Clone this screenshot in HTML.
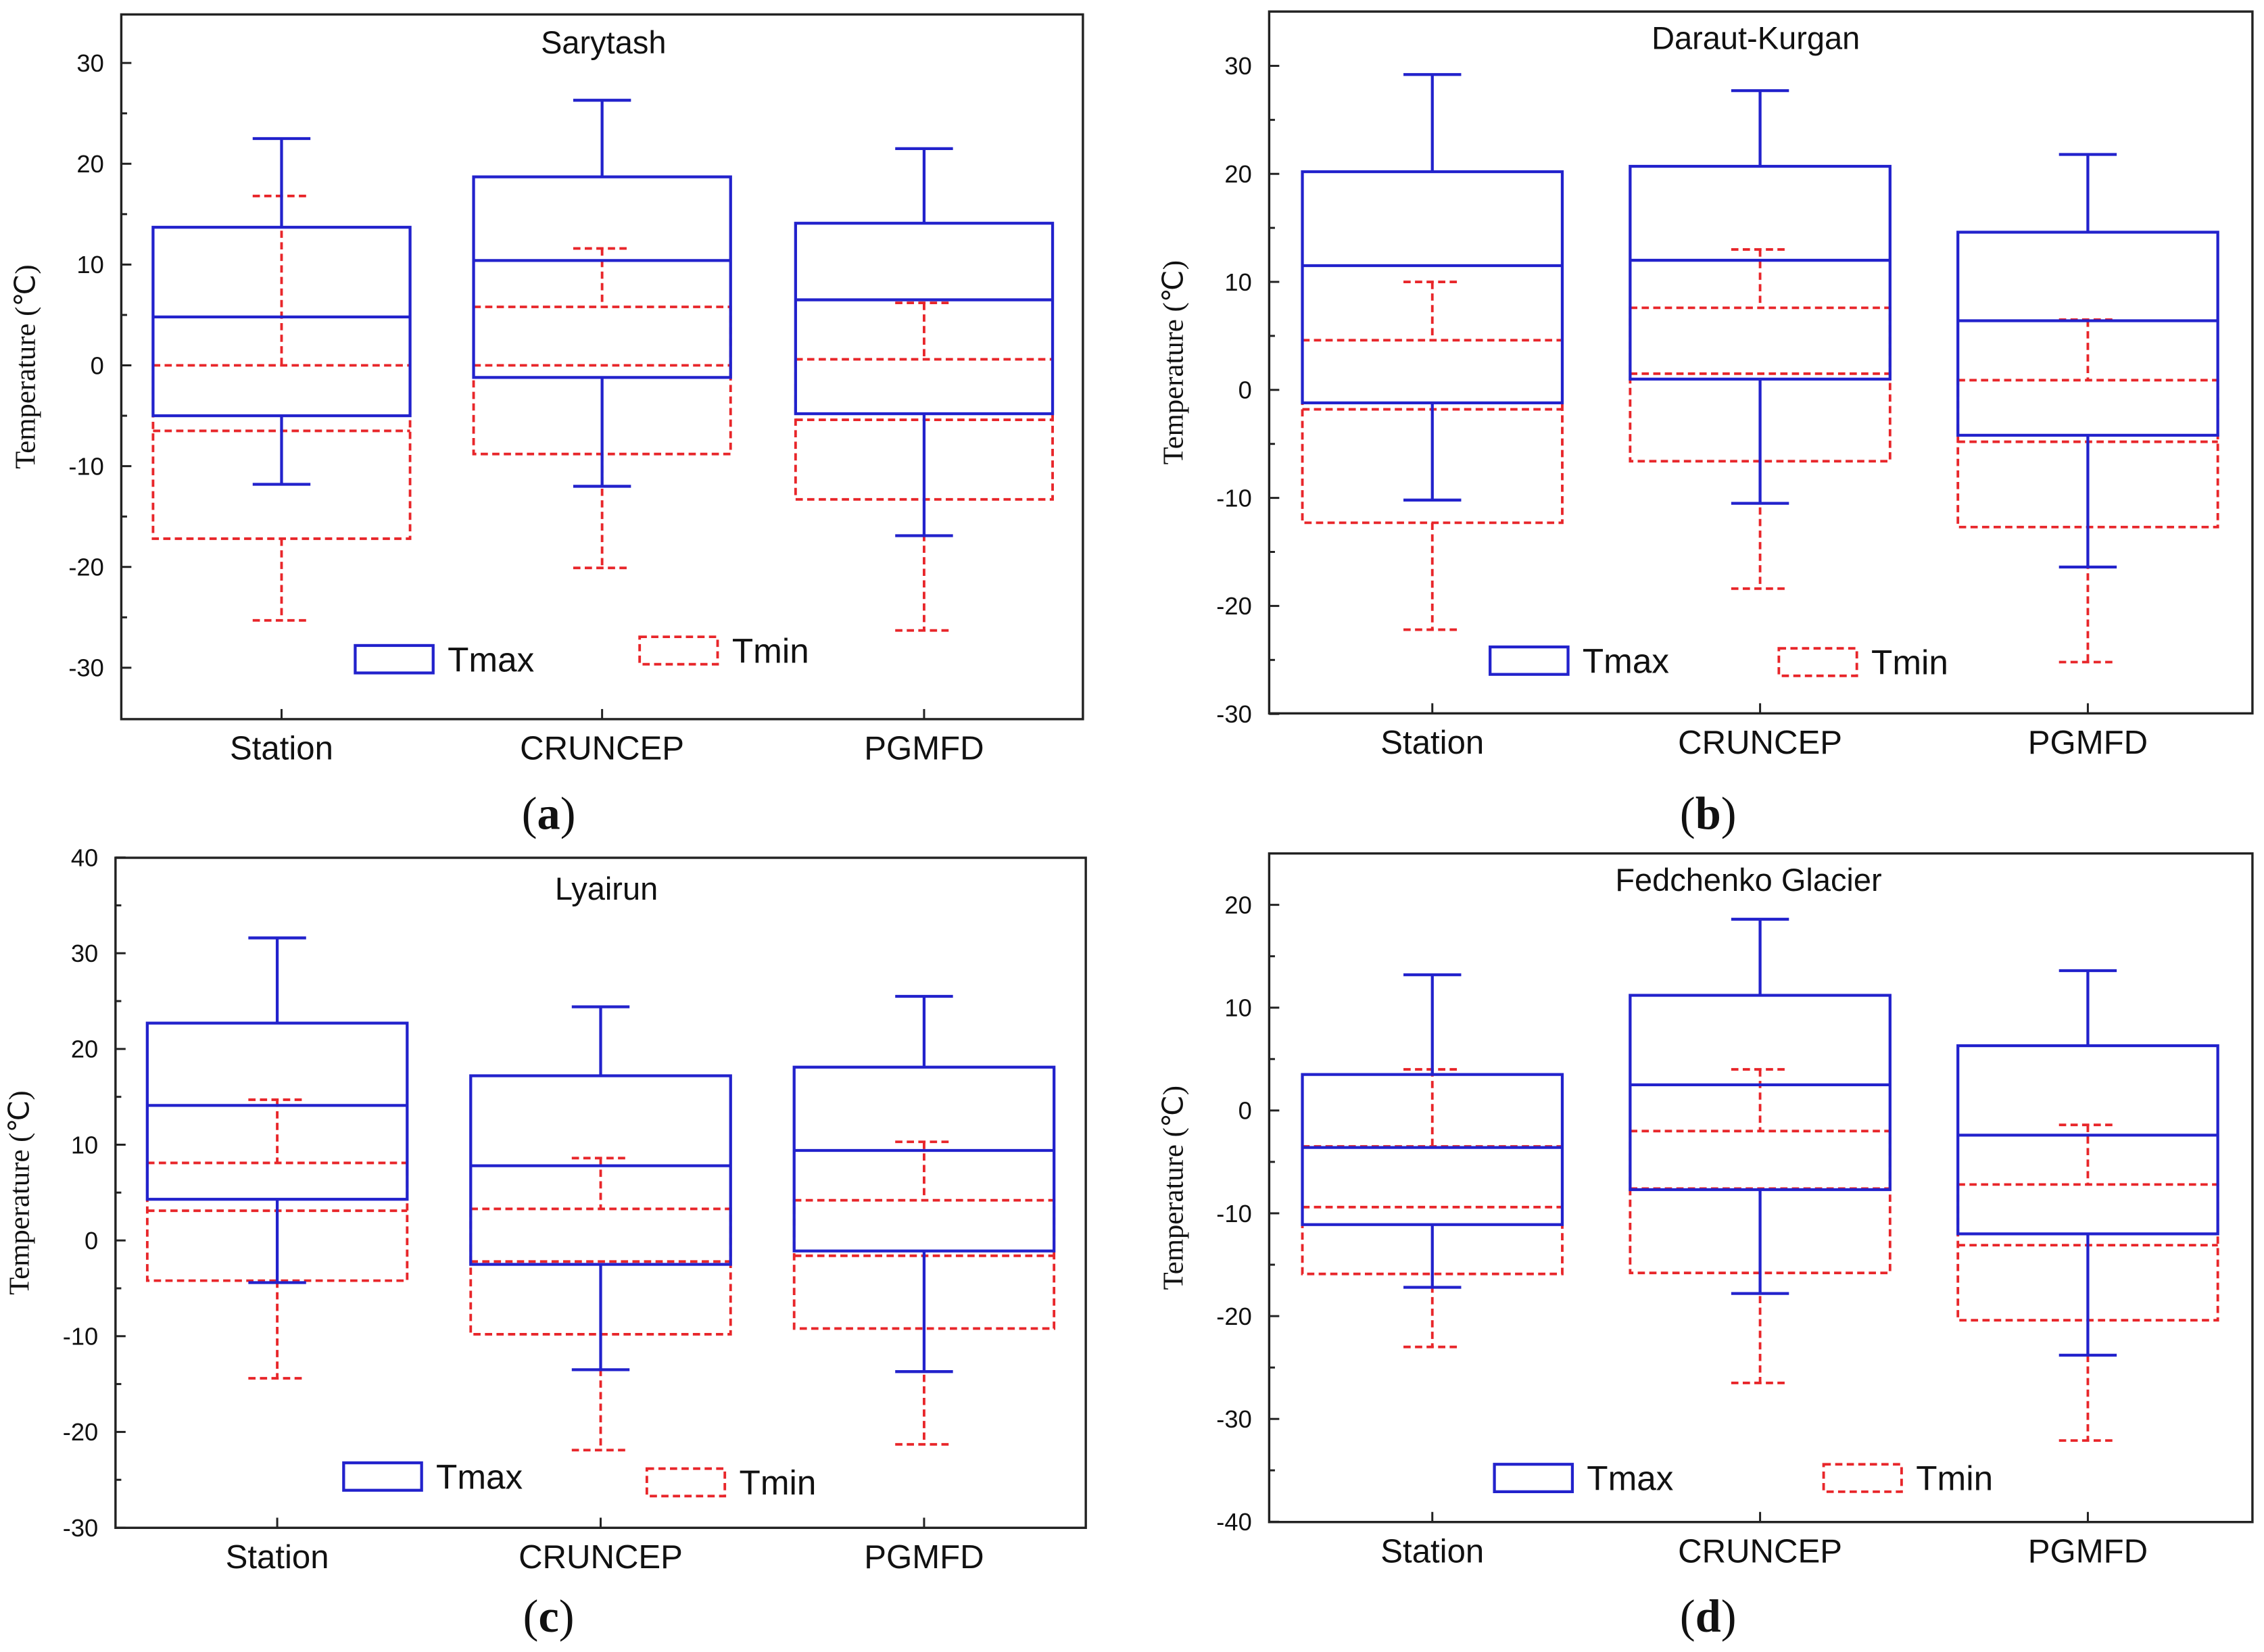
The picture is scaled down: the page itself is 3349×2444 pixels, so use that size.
<!DOCTYPE html>
<html><head><meta charset="utf-8"><style>
html,body{margin:0;padding:0;background:#fff}
svg{display:block}
text{font-family:"Liberation Sans",Arial,sans-serif;fill:#111}
.serif{font-family:"Liberation Serif","Times New Roman",serif}
</style></head><body>
<svg id="chart" width="3349" height="2444" viewBox="0 0 1568 1144" preserveAspectRatio="none" xmlns="http://www.w3.org/2000/svg"></svg>
<script>
// Data: [lowerWhisker, q1, median, q3, upperWhisker]
const categories = ["Station","CRUNCEP","PGMFD"];
const titles = ["Sarytash","Daraut-Kurgan","Lyairun","Fedchenko Glacier"];
const panelLetters = ["a","b","c","d"];
const tmaxA = [[-11.8,-5,4.8,13.7,22.5],[-12,-1.2,10.4,18.7,26.3],[-16.9,-4.8,6.5,14.1,21.5]];
const tminA = [[-25.3,-17.2,-6.5,0,16.8],[-20.1,-8.8,0,5.8,11.6],[-26.3,-13.3,-5.4,0.6,6.2]];
const tmaxB = [[-10.2,-1.2,11.5,20.2,29.2],[-10.5,1,12,20.7,27.7],[-16.4,-4.2,6.4,14.6,21.8]];
const tminB = [[-22.2,-12.3,-1.8,4.6,10],[-18.4,-6.6,1.5,7.6,13],[-25.2,-12.7,-4.8,0.9,6.5]];
const tmaxC = [[-4.4,4.3,14.1,22.7,31.6],[-13.5,-2.5,7.8,17.2,24.4],[-13.7,-1.1,9.4,18.1,25.5]];
const tminC = [[-14.4,-4.2,3.1,8.1,14.7],[-21.9,-9.8,-2.2,3.3,8.6],[-21.3,-9.2,-1.6,4.2,10.3]];
const tmaxD = [[-17.2,-11.1,-3.6,3.5,13.2],[-17.8,-7.7,2.5,11.2,18.6],[-23.8,-12,-2.4,6.3,13.6]];
const tminD = [[-23,-15.9,-9.4,-3.5,4],[-26.5,-15.8,-7.6,-2,4],[-32.1,-20.4,-13.1,-7.2,-1.4]];
const tickLabelsA = [-30,-20,-10,0,10,20,30];
const tickLabelsB = [-30,-20,-10,0,10,20,30];
const tickLabelsC = [-30,-20,-10,0,10,20,30,40];
const tickLabelsD = [-40,-30,-20,-10,0,10,20];

const panels = [
 {tmax:tmaxA,tmin:tminA,ticks:tickLabelsA,L:84,R:750,T:10,B:498,y0:253,k:6.98,cx:[195,417,640],hw:89,title:[418,37],leg:[246,447,443,441],lab:[380,562]},
 {tmax:tmaxB,tmin:tminB,ticks:tickLabelsB,L:879,R:1560,T:8,B:494,y0:270,k:7.48,cx:[992,1219,1446],hw:90,title:[1216,34],leg:[1032,448,1232,449],lab:[1183,562]},
 {tmax:tmaxC,tmin:tminC,ticks:tickLabelsC,L:80,R:752,T:594,B:1058,y0:859,k:6.63,cx:[192,416,640],hw:90,title:[420,623],leg:[238,1013,448,1017],lab:[380,1118]},
 {tmax:tmaxD,tmin:tminD,ticks:tickLabelsD,L:879,R:1560,T:591,B:1054,y0:769,k:7.12,cx:[992,1219,1446],hw:90,title:[1211,617],leg:[1035,1014,1263,1014],lab:[1183,1118]}
];
const svg = document.getElementById('chart');
const NS = 'http://www.w3.org/2000/svg';
function mk(tag, attrs, parent){const e=document.createElementNS(NS,tag);for(const a in attrs)e.setAttribute(a,attrs[a]);(parent||svg).appendChild(e);return e;}
const BLUE='#2222cc', RED='#e8262a';

panels.forEach((p,pi)=>{
  const g = mk('g',{});
  
  
  const y = v => p.y0 - v*p.k;
  const fr = mk('rect',{x:p.L,y:p.T,width:p.R-p.L,height:p.B-p.T,fill:'none',stroke:'#222','stroke-width':1.6},g);
  
  
  const tmin=p.ticks[0], tmaxv=p.ticks[p.ticks.length-1];
  for(let v=tmin; v<=tmaxv; v+=5){
    const major = (v%10===0);
    const yy=y(v);
    if(yy<p.T-0.5||yy>p.B+0.5) continue;
    const t=mk('line',{x1:p.L,x2:p.L+(major?7:4),y1:yy,y2:yy,stroke:'#222','stroke-width':1.4},g);
    
    
  }
  p.ticks.forEach(v=>{
    const t=mk('text',{x:p.L-12,y:y(v)+6,'text-anchor':'end','font-size':17},g);
    t.textContent=v;
    
    
  });
  const yt=mk('text',{x:0,y:0,'text-anchor':'middle','font-size':20,class:'serif',transform:`translate(${p.L-60},${(p.T+p.B)/2}) rotate(-90)`},g);
  yt.textContent='Temperature (℃)';
  
  
  categories.forEach((c,ci)=>{
    const t=mk('line',{x1:p.cx[ci],x2:p.cx[ci],y1:p.B,y2:p.B-7,stroke:'#222','stroke-width':1.4},g);
    
    
    const l=mk('text',{x:p.cx[ci],y:p.B+28,'text-anchor':'middle','font-size':23},g);
    l.textContent=c;
    
    
  });
  const tt=mk('text',{x:p.title[0],y:p.title[1],'text-anchor':'middle','font-size':22},g);
  tt.textContent=titles[pi];
  
  
  function box(stats,ci,color,dash,name){
    const bg=mk('g',{stroke:color,'stroke-width':dash?1.8:2,fill:'none','stroke-dasharray':dash?'5,3':'none'},g);
    
    
    const cx=p.cx[ci], hw=p.hw, cw=20;
    mk('line',{x1:cx,x2:cx,y1:y(stats[4]),y2:y(stats[3])},bg);
    mk('line',{x1:cx,x2:cx,y1:y(stats[1]),y2:y(stats[0])},bg);
    mk('line',{x1:cx-cw,x2:cx+cw,y1:y(stats[4]),y2:y(stats[4])},bg);
    mk('line',{x1:cx-cw,x2:cx+cw,y1:y(stats[0]),y2:y(stats[0])},bg);
    mk('rect',{x:cx-hw,y:y(stats[3]),width:2*hw,height:y(stats[1])-y(stats[3])},bg);
    mk('line',{x1:cx-hw,x2:cx+hw,y1:y(stats[2]),y2:y(stats[2])},bg);
  }
  p.tmin.forEach((s,ci)=>box(s,ci,RED,true,'tmin-box'));
  p.tmax.forEach((s,ci)=>box(s,ci,BLUE,false,'tmax-box'));
  const lg=mk('g',{},g);
  
  
  const [bx,by,rx,ry]=p.leg;
  mk('rect',{x:bx,y:by,width:54,height:19,fill:'none',stroke:BLUE,'stroke-width':2},lg);
  const t1=mk('text',{x:bx+64,y:by+18,'font-size':24},lg); t1.textContent='Tmax';
  
  
  mk('rect',{x:rx,y:ry,width:54,height:19,fill:'none',stroke:RED,'stroke-width':1.8,'stroke-dasharray':'5,3'},lg);
  const t2=mk('text',{x:rx+64,y:ry+18,'font-size':24},lg); t2.textContent='Tmin';
  
  
  const pl=mk('text',{x:p.lab[0],y:p.lab[1]+12,'text-anchor':'middle','font-size':32,class:'serif'},g);
  pl.innerHTML='(<tspan font-weight="bold">'+panelLetters[pi]+'</tspan>)';
  
  
});
</script>
</body></html>
